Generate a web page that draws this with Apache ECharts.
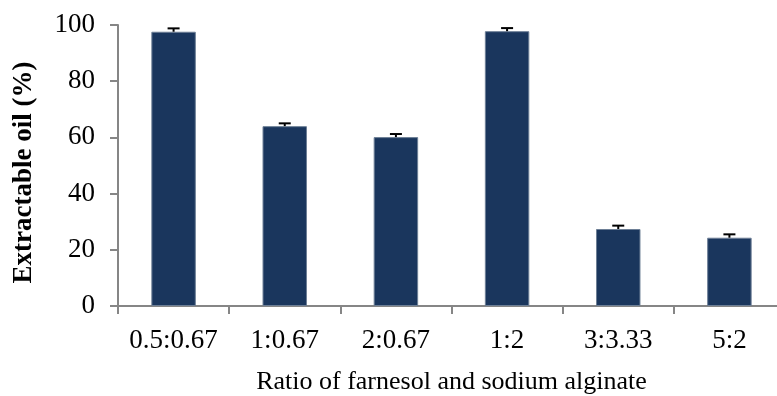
<!DOCTYPE html>
<html>
<head>
<meta charset="utf-8">
<script src="https://cdn.jsdelivr.net/npm/echarts@6/dist/echarts.min.js"></script>
<style>
  html, body { margin: 0; padding: 0; background: #fff; }
  #chart { width: 777px; height: 396px; }
</style>
</head>
<body>
<div id="chart"></div>
<script>
var categories = ["0.5:0.67", "1:0.67", "2:0.67", "1:2", "3:3.33", "5:2"];
var oilValues = [97.6, 64.0, 60.1, 97.8, 27.4, 24.3];
var oilErrors = [1.2, 1.0, 1.1, 1.1, 1.2, 1.2];
var yTicks = [0, 20, 40, 60, 80, 100];

var font = "Liberation Serif";
var axisGrey = "#868686";

var chart = echarts.init(document.getElementById("chart"));

var option = {
  animation: false,
  grid: { left: 118, right: -8, top: 25, bottom: 90, outerBoundsMode: "none", containLabel: false },
  xAxis: {
    type: "category",
    data: categories,
    name: "Ratio of farnesol and sodium alginate",
    nameLocation: "middle",
    nameGap: 63,
    nameTextStyle: { fontFamily: font, fontSize: 26, color: "#000" },
    axisLine: { lineStyle: { color: axisGrey, width: 2 } },
    axisTick: { show: true, length: 8, lineStyle: { color: axisGrey, width: 2 } },
    axisLabel: { interval: 0, hideOverlap: false, fontFamily: font, fontSize: 27, color: "#000", margin: 21 }
  },
  yAxis: {
    type: "value",
    min: yTicks[0],
    max: yTicks[yTicks.length - 1],
    interval: 20,
    name: "Extractable oil (%)",
    nameLocation: "middle",
    nameGap: 80,
    nameTextStyle: { fontFamily: font, fontSize: 27, fontWeight: "bold", color: "#000", padding: [0, 14, 0, 0] },
    axisLine: { show: true, lineStyle: { color: axisGrey, width: 2 } },
    axisTick: { show: true, length: 8, lineStyle: { color: axisGrey, width: 2 } },
    splitLine: { show: false },
    axisLabel: { fontFamily: font, fontSize: 27, color: "#000", margin: 23 }
  },
  series: [
    {
      name: "Extractable oil",
      type: "bar",
      data: oilValues,
      barWidth: "40%",
      itemStyle: { color: "#1a365d", borderColor: "#6d7f96", borderWidth: 1 }
    },
    {
      name: "error",
      type: "custom",
      data: oilValues.map(function (v, i) { return [i, v, v + oilErrors[i]]; }),
      renderItem: function (params, api) {
        var base = api.coord([api.value(0), api.value(1)]);
        var top = api.coord([api.value(0), api.value(2)]);
        var half = 6;
        var style = { stroke: "#000", lineWidth: 2 };
        return {
          type: "group",
          children: [
            { type: "line", shape: { x1: base[0], y1: base[1], x2: top[0], y2: top[1] }, style: style },
            { type: "line", shape: { x1: top[0] - half, y1: top[1], x2: top[0] + half, y2: top[1] }, style: style }
          ]
        };
      },
      z: 3
    }
  ]
};

chart.setOption(option);
</script>
</body>
</html>
